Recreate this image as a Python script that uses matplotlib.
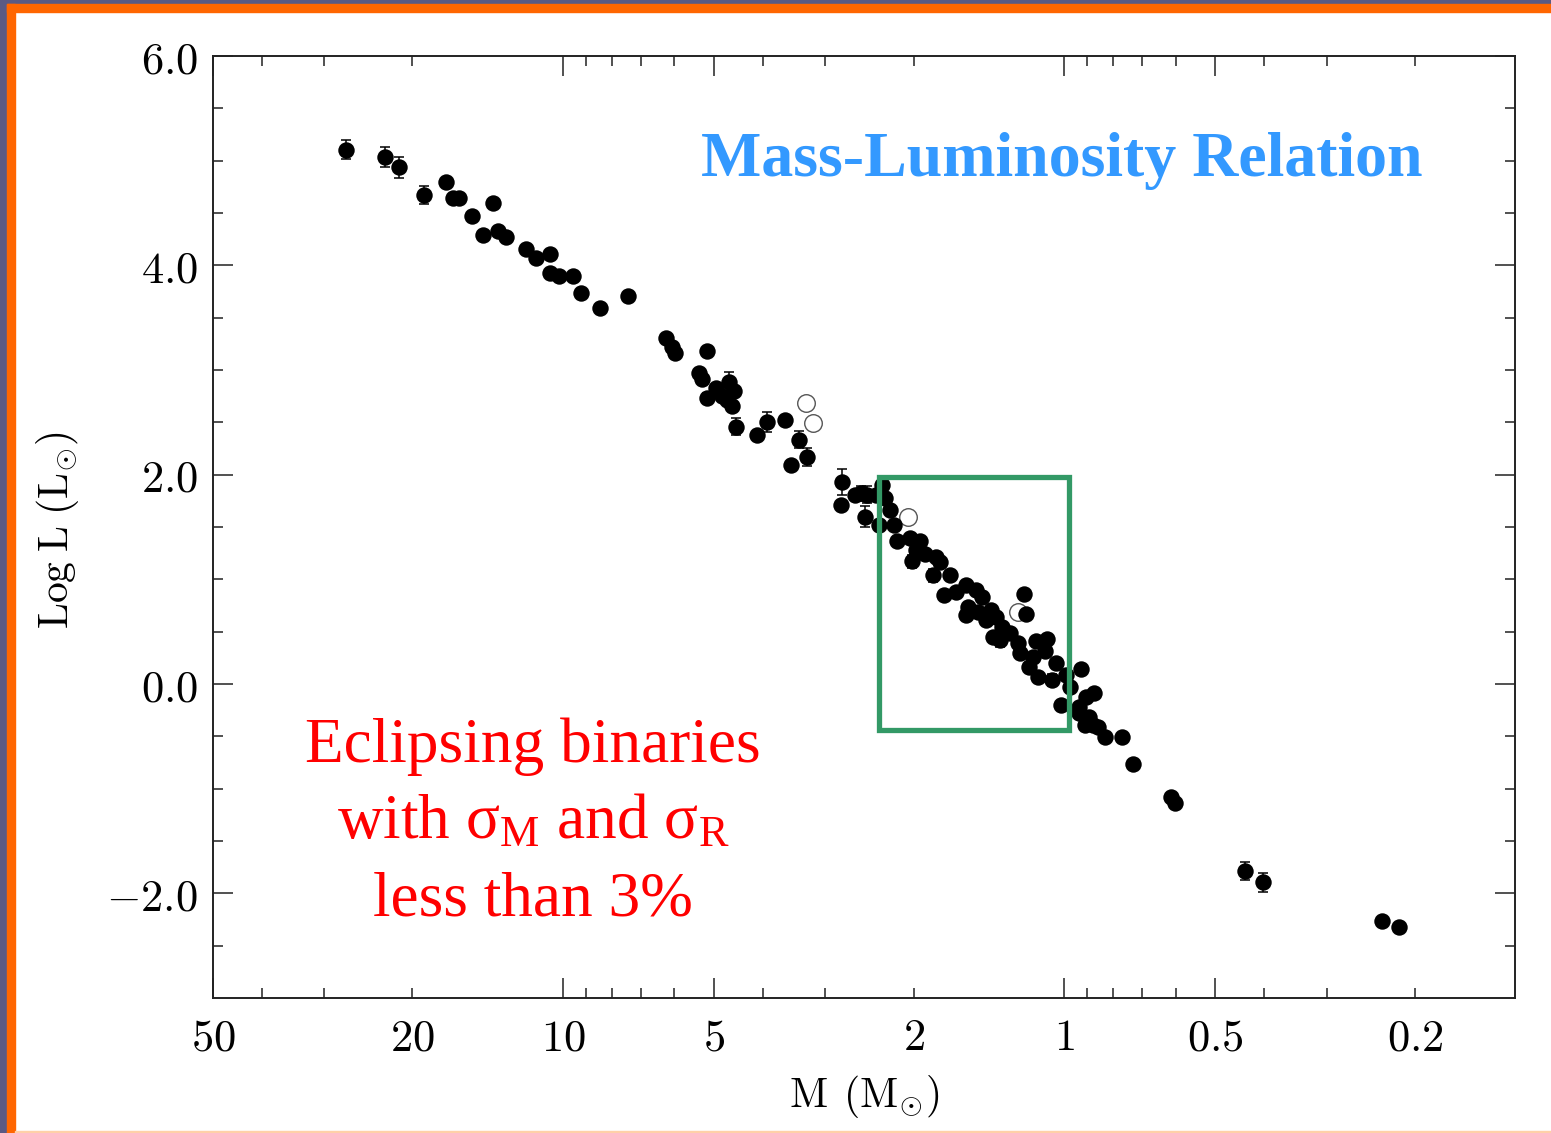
import matplotlib
matplotlib.use("Agg")
import matplotlib.pyplot as plt
from matplotlib.patches import Rectangle
from matplotlib.ticker import NullFormatter

plt.rcParams['mathtext.fontset'] = 'cm'
plt.rcParams['mathtext.rm'] = 'Liberation Serif'

# ---------------- data ----------------
mass_filled = [27.15, 22.73, 21.31, 18.98, 17.16, 16.59, 16.14, 13.80, 15.23, 14.45,
               13.48, 13.03, 11.89, 11.36, 10.61, 10.65, 10.20, 9.566, 9.220, 8.44,
               7.42, 6.23, 6.07, 5.975, 5.16, 5.35, 5.285, 4.957, 4.663, 4.564,
               5.173, 4.823, 4.707, 4.606, 4.523, 4.113, 3.929, 3.607, 3.383, 3.262,
               3.509, 2.773, 2.798, 2.617, 2.483, 2.546, 2.506, 2.315, 2.280, 2.379,
               2.232, 2.350, 2.191, 2.159, 2.036, 1.945, 1.974, 2.017, 1.898, 1.801,
               1.774, 1.829, 1.695, 1.736, 1.643, 1.570, 1.499, 1.463, 1.560, 1.570,
               1.486, 1.402, 1.432, 1.368, 1.335, 1.389, 1.347, 1.287, 1.236, 1.207,
               1.196, 1.142, 1.085, 1.229, 1.157, 1.094, 1.039, 1.178, 1.128, 1.058,
               0.992, 0.928, 1.014, 0.905, 0.875, 0.934, 0.892, 0.878, 0.974, 0.937,
               0.911, 0.857, 0.829, 0.767, 0.731, 0.612, 0.601, 0.437, 0.4015, 0.2322,
               0.2151]
logL_filled = [5.105, 5.035, 4.936, 4.672, 4.799, 4.643, 4.643, 4.596, 4.468, 4.293,
               4.324, 4.271, 4.156, 4.070, 4.104, 3.926, 3.894, 3.901, 3.735, 3.592,
               3.709, 3.301, 3.219, 3.167, 3.184, 2.970, 2.913, 2.830, 2.887, 2.804,
               2.734, 2.747, 2.715, 2.658, 2.460, 2.383, 2.505, 2.524, 2.333, 2.167,
               2.091, 1.931, 1.714, 1.810, 1.810, 1.823, 1.599, 1.900, 1.778, 1.810,
               1.663, 1.517, 1.517, 1.364, 1.396, 1.364, 1.281, 1.173, 1.243, 1.211,
               1.166, 1.039, 1.045, 0.848, 0.880, 0.944, 0.899, 0.835, 0.739, 0.657,
               0.688, 0.707, 0.612, 0.643, 0.548, 0.452, 0.421, 0.485, 0.395, 0.860,
               0.669, 0.408, 0.433, 0.293, 0.261, 0.313, 0.204, 0.165, 0.064, 0.038,
               0.089, 0.141, -0.198, -0.121, -0.089, -0.217, -0.313, -0.395, -0.032, -0.280,
               -0.389, -0.414, -0.510, -0.504, -0.765, -1.077, -1.141, -1.785, -1.893, -2.269,
               -2.320]

mass_open = [3.281, 3.182, 2.055, 1.236]
logL_open = [2.684, 2.492, 1.599, 0.688]

mass_err = [27.15, 22.73, 21.31, 18.98, 4.663, 5.173, 4.523, 3.929, 3.383, 3.262,
            2.773, 2.483, 2.546, 2.506, 2.017, 1.829, 1.347, 1.058, 0.437, 0.4015]
logL_err = [5.105, 5.035, 4.936, 4.672, 2.887, 2.734, 2.460, 2.505, 2.333, 2.167,
            1.931, 1.810, 1.823, 1.599, 1.173, 1.039, 0.421, 0.038, -1.785, -1.893]
sigma_logL = [0.09, 0.10, 0.10, 0.085, 0.095, 0.05, 0.085, 0.095, 0.08, 0.085,
              0.125, 0.08, 0.07, 0.10, 0.06, 0.06, 0.07, 0.06, 0.085, 0.09]

box_mass = [0.9795, 2.342]
box_logL = [-0.435, 1.974]

x_major = [50, 10, 5, 1, 0.5]
x_minor = [40, 30, 20, 9, 8, 7, 6, 4, 3, 2, 0.9, 0.8, 0.7, 0.6, 0.4, 0.3, 0.2]
x_labels = {50: '50', 20: '20', 10: '10', 5: '5', 2: '2', 1: '1', 0.5: '0.5', 0.2: '0.2'}
y_major = [-2, 0, 2, 4, 6]
y_minor = [-2.5, -1.5, -1, -0.5, 0.5, 1, 1.5, 2.5, 3, 3.5, 4.5, 5, 5.5]
y_labels = ['-2.0', '0.0', '2.0', '4.0', '6.0']

# ---------------- figure ----------------
W, H = 1551, 1133
fig = plt.figure(figsize=(W / 100, H / 100), dpi=100, facecolor='white')

# slide frame
purple = '#5a5a84'
orange = '#ff6600'
fig.patches.append(Rectangle((0, (H - 4) / H), 1, 4 / H, transform=fig.transFigure,
                             color=purple, zorder=0))
fig.patches.append(Rectangle((0, 0), 7 / W, 1, transform=fig.transFigure,
                             color=purple, zorder=0))
fig.patches.append(Rectangle((7 / W, (H - 12) / H), 1, 8 / H, transform=fig.transFigure,
                             color=orange, zorder=1))
fig.patches.append(Rectangle((7 / W, 0), 8 / W, (H - 4) / H, transform=fig.transFigure,
                             color=orange, zorder=1))
fig.patches.append(Rectangle((15 / W, 0), 1, 2 / H, transform=fig.transFigure,
                             color='#ffd0a8', zorder=1))

ax = fig.add_axes([213 / W, (H - 998) / H, 1302 / W, 942 / H])
ax.set_xscale('log')
ax.set_xlim(50, 0.1262)
ax.set_ylim(-3, 6)

# open circles first (partially hidden by filled ones)
ax.scatter(mass_open, logL_open, s=160, facecolors='white', edgecolors='#555555',
           linewidths=1.0, zorder=3)
ax.errorbar(mass_err, logL_err, yerr=sigma_logL, fmt='none', ecolor='black',
            elinewidth=1.1, capsize=3.5, capthick=1.1, zorder=3)
ax.scatter(mass_filled, logL_filled, s=140, color='black', linewidths=0, zorder=4)

# green box
ax.add_patch(Rectangle((box_mass[0], box_logL[0]), box_mass[1] - box_mass[0],
                       box_logL[1] - box_logL[0], fill=False, edgecolor='#339966',
                       linewidth=3.8, zorder=5))

# ticks
all_x = x_major + x_minor
ax.set_xticks(all_x)
ax.set_xticklabels(['$' + x_labels[v] + '$' if v in x_labels else '' for v in all_x],
                   fontsize=32)
ax.set_xticks([], minor=True)
ax.xaxis.set_minor_formatter(NullFormatter())
ax.set_yticks(y_major)
ax.set_yticklabels(['$' + t + '$' for t in y_labels], fontsize=32)
ax.set_yticks(y_minor, minor=True)

ax.tick_params(which='both', direction='in', top=True, right=True, width=1.1,
               color='#222222')
ax.tick_params(axis='x', which='major', length=7.2, pad=13)
ax.tick_params(axis='y', which='major', length=14.4, pad=11)
ax.tick_params(which='minor', length=7.2)
for t, v in zip(ax.xaxis.get_major_ticks(), all_x):
    if v in x_major:
        t.tick1line.set_markersize(14.4)
        t.tick2line.set_markersize(14.4)

for s in ax.spines.values():
    s.set_linewidth(1.4)
    s.set_color('#222222')

ax.set_xlabel(r'$\mathrm{M\;\,(M_{\odot})}$', fontsize=30)
ax.xaxis.set_label_coords(0.5, -0.080)
ax.set_ylabel(r'$\mathrm{Log\;L\;(L_{\odot})}$', fontsize=30)
ax.yaxis.set_label_coords(-0.101, 0.497)

# annotations
ax.text(1.01, 4.85, 'Mass-Luminosity Relation', fontsize=46, fontweight='bold',
        family='Liberation Serif', color='#3399ff', ha='center', va='baseline',
        zorder=6)
ax.text(11.48, -0.746, 'Eclipsing binaries', fontsize=45.5, family='Liberation Serif',
        color='#ff0000', ha='center', va='baseline', math_fontfamily='custom')
ax.text(11.48, -1.472, r'with $\mathrm{σ_M}$ and $\mathrm{σ_R}$', fontsize=45.5,
        family='Liberation Serif', color='#ff0000', ha='center', va='baseline',
        math_fontfamily='custom')
ax.text(11.48, -2.208, 'less than 3%', fontsize=45.5, family='Liberation Serif',
        color='#ff0000', ha='center', va='baseline', math_fontfamily='custom')

fig.savefig('out.png', dpi=100, facecolor='white')
